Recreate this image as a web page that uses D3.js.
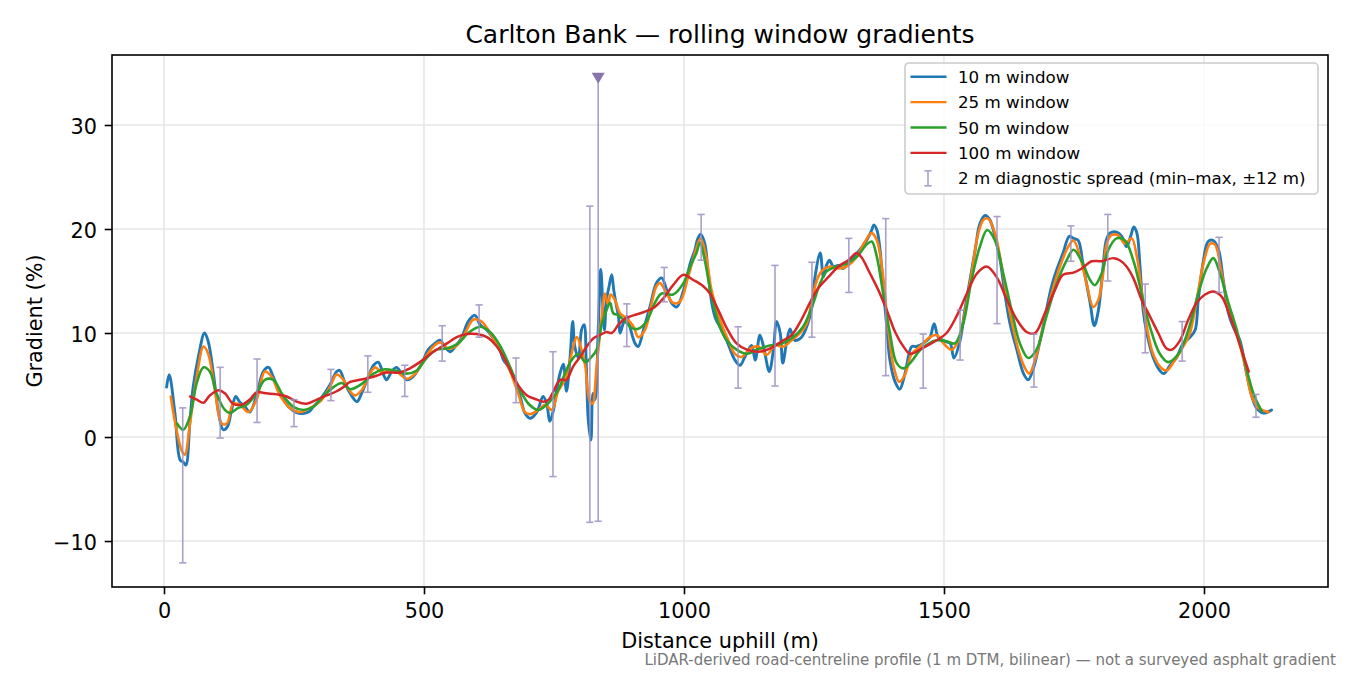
<!DOCTYPE html>
<html lang="en">
<head>
<meta charset="UTF-8">
<title>Carlton Bank — rolling window gradients</title>
<script src="https://cdn.jsdelivr.net/npm/d3@7/dist/d3.min.js"></script>
<style>
  body { margin: 0; background: #fff; }
  svg text { font-family: "DejaVu Sans", sans-serif; fill: #000; }
</style>
</head>
<body>
<div id="chart"></div>
<script>
// [distance uphill (m), gradient (%)]
const win10 = [
  [5,4.8],[10,6.0],[21,2.3],[31,-2.2],[37,-2.4],[42,-2.7],[50,1.6],[56,4.8],[66,7.7],[78,10.0],
  [85,9.2],[95,6.1],[105,2.3],[114,0.7],[122,1.0],[130,2.6],[138,3.9],[145,3.4],[156,2.9],[165,2.4],
  [178,4.0],[191,6.3],[201,6.7],[210,5.8],[226,3.9],[242,2.8],[258,2.3],[278,2.4],[287,2.9],[300,3.6],
  [319,5.0],[332,6.3],[338,6.4],[348,5.2],[358,4.2],[371,3.4],[380,4.2],[393,5.8],[403,6.9],[412,7.2],
  [422,6.0],[428,5.5],[438,6.3],[447,6.7],[457,6.1],[467,5.5],[479,5.8],[496,7.1],[508,8.4],[521,9.0],
  [531,9.3],[540,8.7],[550,8.2],[560,8.7],[572,9.5],[585,11.1],[598,11.7],[608,10.8],[621,10.3],[633,9.5],
  [643,8.8],[653,7.4],[662,6.8],[672,5.8],[685,3.9],[694,2.3],[704,1.8],[717,2.4],[729,3.9],[736,3.2],
  [742,1.5],[749,2.6],[756,4.8],[762,6.2],[768,7.0],[774,4.4],[781,7.7],[786,11.1],[790,8.7],[797,7.6],
  [803,10.3],[808,10.8],[812,7.1],[816,1.6],[821,-0.3],[825,4.2],[829,3.6],[835,10.3],[840,16.1],[844,12.5],
  [847,10.3],[851,13.2],[856,14.5],[861,15.6],[865,14.1],[869,12.9],[874,11.6],[877,10.0],[883,10.9],[890,11.6],
  [896,10.6],[906,9.0],[912,8.7],[922,10.3],[935,12.6],[947,14.8],[957,15.3],[967,14.1],[976,12.9],[986,12.5],
  [999,14.1],[1012,16.7],[1021,18.0],[1026,19.0],[1032,19.5],[1040,18.6],[1046,16.0],[1053,13.0],[1060,11.5],[1070,10.5],
  [1082,9.3],[1098,7.4],[1108,6.9],[1117,7.7],[1130,8.8],[1137,7.4],[1146,9.8],[1153,8.7],[1164,6.3],[1172,8.4],
  [1178,11.1],[1185,10.0],[1190,7.1],[1197,9.0],[1204,10.4],[1213,9.3],[1226,9.6],[1236,10.6],[1246,12.5],[1252,15.4],
  [1262,17.7],[1268,15.4],[1274,16.5],[1280,17.0],[1287,16.4],[1297,16.5],[1306,16.2],[1316,16.7],[1326,17.3],[1338,18.0],
  [1351,18.9],[1361,19.9],[1365,20.4],[1371,19.9],[1377,18.0],[1383,14.5],[1390,10.6],[1396,7.4],[1406,5.3],[1415,4.6],
  [1425,6.1],[1438,8.7],[1447,8.7],[1460,9.0],[1473,9.6],[1481,10.9],[1489,9.6],[1502,9.2],[1512,9.0],[1519,7.6],
  [1531,9.3],[1540,12.2],[1550,15.1],[1560,18.0],[1569,20.5],[1579,21.3],[1588,20.9],[1598,19.3],[1608,17.0],[1617,13.8],
  [1627,10.9],[1640,8.4],[1653,6.1],[1662,5.5],[1672,6.6],[1685,9.3],[1697,12.2],[1707,14.5],[1717,16.1],[1729,17.7],
  [1741,19.3],[1749,19.1],[1758,18.9],[1768,16.4],[1781,12.9],[1789,10.7],[1797,12.2],[1806,16.4],[1812,18.9],[1819,19.6],
  [1832,19.7],[1842,19.3],[1851,18.3],[1859,19.3],[1865,20.2],[1871,19.6],[1877,16.4],[1883,12.2],[1890,10.0],[1902,7.7],
  [1915,6.4],[1923,6.1],[1935,6.9],[1947,7.6],[1960,9.0],[1973,9.6],[1983,10.3],[1989,13.2],[1999,17.0],[2008,18.8],
  [2018,18.9],[2028,18.0],[2037,15.1],[2047,11.9],[2056,10.6],[2069,9.3],[2082,6.1],[2092,3.9],[2101,2.8],[2114,2.3],
  [2130,2.6]
];
const win25 = [
  [13,3.9],[24,0.7],[34,-1.3],[40,-1.7],[50,1.3],[63,5.8],[76,8.7],[85,8.0],[98,4.5],[111,1.3],
  [121,1.3],[133,3.2],[146,3.1],[162,2.4],[178,3.6],[194,6.3],[207,5.8],[223,4.0],[242,2.8],[262,2.4],
  [281,2.8],[300,3.4],[319,4.8],[332,6.0],[345,5.5],[355,4.6],[367,4.0],[380,4.5],[396,6.1],[406,6.7],
  [419,6.2],[435,6.4],[447,6.3],[467,5.6],[483,6.1],[502,7.6],[518,8.7],[531,9.1],[547,8.5],[563,8.8],
  [579,10.0],[595,11.3],[611,11.1],[627,10.0],[646,8.4],[665,6.4],[681,4.2],[694,2.4],[704,2.2],[720,2.6],
  [733,3.1],[746,2.6],[758,4.4],[771,5.5],[781,7.4],[794,9.6],[803,8.4],[810,6.9],[818,3.6],[824,3.2],
  [832,6.8],[842,11.6],[848,13.8],[854,12.7],[859,13.7],[867,13.2],[877,11.9],[890,11.4],[903,10.6],[912,9.6],
  [925,10.3],[938,12.9],[947,14.5],[954,14.8],[967,13.8],[979,12.9],[992,13.0],[1008,15.4],[1021,17.7],[1032,19.1],
  [1042,17.5],[1053,14.1],[1069,11.3],[1085,9.3],[1098,8.0],[1111,7.7],[1127,8.5],[1143,8.7],[1159,7.9],[1175,8.8],
  [1191,8.7],[1207,9.3],[1223,10.0],[1236,10.9],[1246,13.2],[1258,15.4],[1268,16.1],[1281,16.4],[1300,16.2],[1316,16.5],
  [1332,17.3],[1348,18.8],[1361,19.6],[1371,18.9],[1383,15.4],[1393,10.3],[1403,6.8],[1414,5.3],[1425,6.0],[1438,8.0],
  [1454,8.7],[1473,9.6],[1486,9.8],[1499,9.0],[1515,8.4],[1528,9.3],[1540,11.9],[1553,15.7],[1566,19.6],[1576,20.9],
  [1585,21.0],[1598,19.6],[1611,16.4],[1627,11.9],[1643,8.4],[1656,6.6],[1664,6.1],[1675,7.4],[1691,10.6],[1707,13.8],
  [1723,16.4],[1739,18.3],[1749,18.9],[1762,17.3],[1774,14.8],[1787,12.5],[1797,13.2],[1806,15.7],[1813,18.6],[1822,19.4],
  [1835,19.4],[1848,18.6],[1861,19.1],[1871,17.3],[1880,14.1],[1890,10.6],[1902,8.0],[1915,6.8],[1928,6.4],[1944,7.4],
  [1960,8.7],[1973,10.0],[1986,13.2],[1999,16.7],[2012,18.6],[2021,18.5],[2034,15.7],[2047,12.5],[2063,10.0],[2079,6.8],
  [2092,3.9],[2105,2.8],[2124,2.4]
];
const win50 = [
  [25,1.3],[37,0.7],[50,2.0],[63,5.2],[76,6.7],[88,6.3],[101,4.2],[117,2.6],[127,2.3],[143,2.8],
  [159,3.1],[178,4.2],[194,5.5],[210,5.5],[229,4.0],[249,2.9],[268,2.6],[287,2.9],[306,3.9],[326,4.8],
  [342,5.2],[358,4.6],[383,5.2],[403,6.1],[422,6.5],[444,6.4],[467,6.1],[486,6.4],[505,7.6],[524,8.4],
  [544,8.5],[566,9.0],[585,10.0],[608,10.6],[627,10.1],[646,8.8],[665,6.8],[685,4.5],[701,3.2],[720,2.6],
  [742,3.4],[758,4.5],[771,6.1],[784,7.4],[797,8.0],[810,7.2],[822,7.7],[832,8.4],[842,10.9],[851,12.2],
  [858,12.9],[864,11.9],[874,11.7],[887,11.1],[899,10.5],[912,10.4],[928,11.1],[944,12.9],[957,13.8],[979,13.7],
  [999,14.8],[1012,16.4],[1024,17.7],[1031,18.7],[1040,17.0],[1053,13.5],[1069,10.6],[1082,9.3],[1101,8.4],[1121,8.0],
  [1140,8.4],[1165,8.8],[1188,9.0],[1210,9.6],[1229,10.6],[1246,12.5],[1262,14.8],[1274,15.9],[1294,16.4],[1313,16.7],
  [1332,17.3],[1351,18.5],[1361,18.8],[1371,17.3],[1383,13.8],[1396,10.0],[1409,7.1],[1422,6.6],[1438,7.3],[1457,8.5],
  [1486,9.3],[1505,9.2],[1521,9.0],[1537,10.9],[1553,15.1],[1569,18.3],[1583,19.9],[1598,18.9],[1614,15.7],[1630,12.2],
  [1646,9.0],[1662,7.6],[1678,8.4],[1697,11.6],[1717,14.8],[1736,17.0],[1749,18.0],[1765,16.9],[1781,15.1],[1790,14.6],
  [1803,15.7],[1816,18.0],[1832,19.1],[1848,18.9],[1864,17.0],[1880,13.8],[1896,10.6],[1915,8.0],[1931,7.2],[1951,8.0],
  [1970,10.3],[1989,13.8],[2005,16.2],[2018,17.2],[2031,15.7],[2047,12.9],[2063,10.3],[2079,7.1],[2095,4.2],[2111,2.5]
];
const win100 = [
  [50,3.9],[63,3.6],[76,3.3],[88,4.0],[105,4.5],[117,4.2],[133,3.2],[149,3.1],[165,3.6],[178,4.3],
  [197,4.2],[217,4.1],[236,3.9],[255,3.4],[274,3.2],[294,3.6],[313,4.0],[332,4.4],[345,4.8],[358,5.3],
  [377,5.5],[403,5.8],[428,6.2],[454,6.2],[473,6.6],[492,7.2],[518,8.2],[544,9.0],[563,9.6],[582,9.9],
  [601,9.9],[621,9.6],[640,8.7],[659,7.1],[678,5.2],[698,4.0],[717,3.6],[730,3.4],[740,3.6],[749,4.4],
  [762,5.5],[774,5.5],[787,6.8],[800,7.7],[813,8.7],[826,9.5],[838,9.8],[851,10.1],[861,10.0],[874,10.8],
  [887,11.4],[903,11.7],[922,12.0],[941,12.4],[960,13.3],[979,14.6],[999,15.6],[1018,15.1],[1037,14.5],[1050,13.8],
  [1066,12.2],[1082,10.5],[1101,9.0],[1121,8.4],[1143,8.2],[1165,8.5],[1188,9.2],[1207,9.8],[1226,11.3],[1242,12.9],
  [1258,14.3],[1278,15.4],[1297,16.4],[1316,17.0],[1332,17.7],[1341,17.3],[1358,15.7],[1374,14.1],[1390,12.2],[1406,10.1],
  [1422,8.7],[1435,8.0],[1457,8.5],[1486,9.3],[1505,10.0],[1524,11.6],[1544,13.8],[1563,15.7],[1582,16.4],[1601,15.4],
  [1621,13.2],[1640,11.3],[1659,10.1],[1675,10.0],[1694,11.9],[1713,14.1],[1729,15.6],[1749,15.8],[1765,16.2],[1784,16.9],
  [1803,16.9],[1826,17.2],[1838,17.0],[1851,16.4],[1864,15.3],[1880,13.2],[1896,11.6],[1912,10.0],[1928,8.5],[1938,8.4],
  [1954,9.3],[1970,11.3],[1986,12.9],[2002,13.7],[2018,14.0],[2034,13.5],[2050,11.6],[2066,9.3],[2086,6.3]
];

const seriesNames = ["10 m window", "25 m window", "50 m window", "100 m window"];
const seriesColors = ["#1f77b4", "#ff7f0e", "#2ca02c", "#d62728"];

// 2 m diagnostic spread (min/max within ±12 m)
const spreadAt = [36,108,179,250,321,392,463,535,606,677,748,819,835,890,962,1033,1104,1175,1246,1317,
                  1388,1460,1531,1602,1673,1744,1815,1887,1958,2029,2100];
const spreadLo = [-12.1,-0.1,1.4,1.0,3.5,4.3,3.9,7.3,9.6,3.3,-3.8,-8.2,-8.1,8.7,13.0,17.0,4.7,4.9,9.6,13.9,
                  5.9,4.7,7.4,10.9,4.8,16.9,15.0,8.1,7.3,13.9,1.9];
const spreadHi = [2.8,6.7,7.5,3.6,6.5,7.8,6.9,10.7,12.7,7.6,8.2,22.2,48.0,12.8,16.3,21.4,10.6,16.5,16.8,19.1,
                  21.0,9.9,12.2,21.2,9.9,20.3,21.4,14.7,11.1,19.2,4.1];
const spreadCap = 34.5;   // values above this are drawn to a ▼ marker

const xTicks = [0, 500, 1000, 1500, 2000];
const xTickLabels = ["0", "500", "1000", "1500", "2000"];
const yTicks = [-10, 0, 10, 20, 30];
const yTickLabels = ["\u221210", "0", "10", "20", "30"];

const w = 1350;
const h = 675;
const margin = {left: 112, right: 22, top: 55, bottom: 88};
const fs = 20.8;

const svg = d3.select("#chart")
  .append("svg")
  .attr("width", w)
  .attr("height", h);

const xscale = d3.scaleLinear()
  .domain([-100, 2238.5])
  .range([margin.left, w - margin.right]);
const yscale = d3.scaleLinear()
  .domain([-14.42, 36.73])
  .range([h - margin.bottom, margin.top]);

const plotW = w - margin.left - margin.right;
const plotH = h - margin.top - margin.bottom;

svg.append("defs").append("clipPath").attr("id", "plot-clip")
  .append("rect")
  .attr("x", margin.left).attr("y", margin.top)
  .attr("width", plotW).attr("height", plotH);

// grid
svg.append("g").selectAll("line")
  .data(xTicks).enter().append("line")
  .attr("x1", d => xscale(d)).attr("x2", d => xscale(d))
  .attr("y1", margin.top).attr("y2", h - margin.bottom)
  .attr("stroke", "#e7e7e7").attr("stroke-width", 1.6);
svg.append("g").selectAll("line")
  .data(yTicks).enter().append("line")
  .attr("y1", d => yscale(d)).attr("y2", d => yscale(d))
  .attr("x1", margin.left).attr("x2", w - margin.right)
  .attr("stroke", "#e7e7e7").attr("stroke-width", 1.6);

// rolling window lines
const line = d3.line()
  .x(d => xscale(d[0]))
  .y(d => yscale(d[1]))
  .curve(d3.curveCatmullRom.alpha(0.5));

const widths = [2.9, 2.6, 2.6, 2.5];
const plot = svg.append("g").attr("clip-path", "url(#plot-clip)");
[win10, win25, win50, win100].forEach((s, i) => {
  plot.append("path")
    .datum(s)
    .attr("d", line)
    .attr("fill", "none")
    .attr("stroke", seriesColors[i])
    .attr("stroke-width", widths[i])
    .attr("stroke-linejoin", "round")
    .attr("stroke-linecap", "round");
});

// diagnostic spread bars
const spread = spreadAt.map((m, i) => ({m: m, lo: spreadLo[i], hi: spreadHi[i]}));
const barColor = "#9d90c2";
const capW = 3.6;
const bars = plot.append("g").attr("opacity", 0.85);
bars.selectAll("line.bar")
  .data(spread).enter().append("line")
  .attr("class", "bar")
  .attr("x1", d => xscale(d.m)).attr("x2", d => xscale(d.m))
  .attr("y1", d => yscale(d.lo)).attr("y2", d => yscale(Math.min(d.hi, spreadCap)))
  .attr("stroke", barColor).attr("stroke-width", 1.6);
bars.selectAll("line.lo")
  .data(spread).enter().append("line")
  .attr("class", "lo")
  .attr("x1", d => xscale(d.m) - capW).attr("x2", d => xscale(d.m) + capW)
  .attr("y1", d => yscale(d.lo)).attr("y2", d => yscale(d.lo))
  .attr("stroke", barColor).attr("stroke-width", 1.6);
bars.selectAll("line.hi")
  .data(spread.filter(d => d.hi <= spreadCap)).enter().append("line")
  .attr("class", "hi")
  .attr("x1", d => xscale(d.m) - capW).attr("x2", d => xscale(d.m) + capW)
  .attr("y1", d => yscale(d.hi)).attr("y2", d => yscale(d.hi))
  .attr("stroke", barColor).attr("stroke-width", 1.6);
svg.append("g").selectAll("path")
  .data(spread.filter(d => d.hi > spreadCap)).enter().append("path")
  .attr("d", "M-6.5,-5.5L6.5,-5.5L0,5.5Z")
  .attr("transform", d => `translate(${xscale(d.m)},${yscale(spreadCap)})`)
  .attr("fill", "#8575ab");

// axes
const Xaxis = d3.axisBottom(xscale)
  .tickValues(xTicks)
  .tickFormat((d, i) => xTickLabels[i])
  .tickSize(7.3).tickPadding(8.9);
const Yaxis = d3.axisLeft(yscale)
  .tickValues(yTicks)
  .tickFormat((d, i) => yTickLabels[i])
  .tickSize(7.3).tickPadding(7.7);

const gx = svg.append("g")
  .attr("transform", `translate(0, ${h - margin.bottom})`)
  .call(Xaxis);
const gy = svg.append("g")
  .attr("transform", `translate(${margin.left}, 0)`)
  .call(Yaxis);
[gx, gy].forEach(g => {
  g.select(".domain").remove();
  g.selectAll(".tick line").attr("stroke", "#000").attr("stroke-width", 1.6);
  g.selectAll(".tick text").attr("font-size", fs).attr("font-family", "DejaVu Sans").attr("fill", "#000");
});
gy.selectAll(".tick text").attr("dy", "0.4em");

svg.append("rect")
  .attr("x", margin.left).attr("y", margin.top)
  .attr("width", plotW).attr("height", plotH)
  .attr("fill", "none").attr("stroke", "#000").attr("stroke-width", 1.6);

// titles and labels
svg.append("text")
  .attr("x", margin.left + plotW / 2).attr("y", 42.5)
  .attr("text-anchor", "middle").attr("font-size", 25)
  .text("Carlton Bank \u2014 rolling window gradients");
svg.append("text")
  .attr("x", margin.left + plotW / 2).attr("y", 648)
  .attr("text-anchor", "middle").attr("font-size", fs)
  .text("Distance uphill (m)");
svg.append("text")
  .attr("transform", `translate(42, ${margin.top + plotH / 2}) rotate(-90)`)
  .attr("text-anchor", "middle").attr("font-size", fs)
  .text("Gradient (%)");
svg.append("text")
  .attr("x", 1336).attr("y", 665)
  .attr("text-anchor", "end").attr("font-size", 15)
  .style("fill", "#777777")
  .text("LiDAR-derived road-centreline profile (1 m DTM, bilinear) \u2014 not a surveyed asphalt gradient");

// legend
const legend = svg.append("g").attr("transform", "translate(905, 63)");
legend.append("rect")
  .attr("width", 413).attr("height", 131)
  .attr("rx", 4).attr("ry", 4)
  .attr("fill", "#fff").attr("fill-opacity", 0.8)
  .attr("stroke", "#cccccc").attr("stroke-width", 1.6);
const rowY = i => 13.7 + i * 25.4;
legend.selectAll("line.key")
  .data(seriesNames).enter().append("line")
  .attr("class", "key")
  .attr("x1", 5.5).attr("x2", 41.5)
  .attr("y1", (d, i) => rowY(i)).attr("y2", (d, i) => rowY(i))
  .attr("stroke", (d, i) => seriesColors[i]).attr("stroke-width", 2.4);
const labels = seriesNames.concat(["2 m diagnostic spread (min\u2013max, \u00b112 m)"]);
legend.selectAll("text")
  .data(labels).enter().append("text")
  .attr("x", 53).attr("y", (d, i) => rowY(i) + 6)
  .attr("font-size", 16.7)
  .text(d => d);
const ek = legend.append("g").attr("opacity", 0.85)
  .attr("stroke", barColor).attr("stroke-width", 1.6);
const ey = rowY(4);
ek.append("line").attr("x1", 23).attr("x2", 23).attr("y1", ey - 7.5).attr("y2", ey + 7.5);
ek.append("line").attr("x1", 23 - capW).attr("x2", 23 + capW).attr("y1", ey - 7.5).attr("y2", ey - 7.5);
ek.append("line").attr("x1", 23 - capW).attr("x2", 23 + capW).attr("y1", ey + 7.5).attr("y2", ey + 7.5);
</script>
</body>
</html>
